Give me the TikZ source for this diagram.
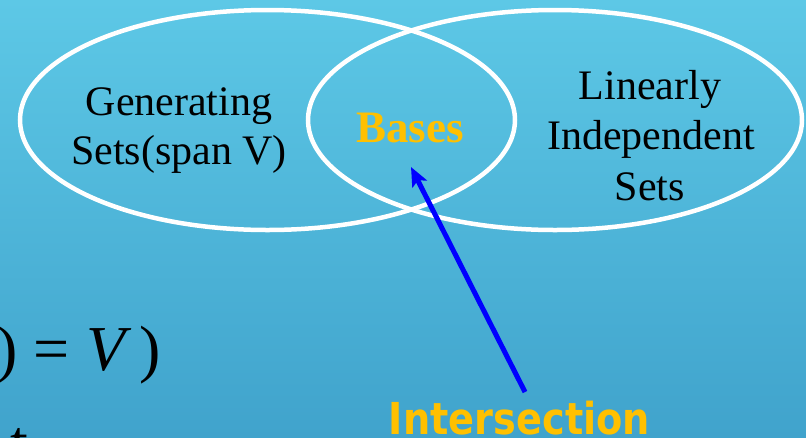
\documentclass[tikz,border=0pt]{standalone}
\usepackage{fontspec}
\setmainfont{Liberation Serif}
\newfontfamily\sansbold{DejaVu Sans}
\usetikzlibrary{arrows.meta,shapes.geometric}
\definecolor{bgtop}{RGB}{93,200,230}
\definecolor{bgbot}{RGB}{64,163,204}
\definecolor{gold}{RGB}{255,192,0}
\definecolor{arrowblue}{RGB}{0,0,255}
\tikzset{
  setellipse/.style={ellipse, draw=white, line width=4.5pt, inner sep=0pt},
  lbl/.style={inner sep=0pt, anchor=base, font=\fontsize{42pt}{49pt}\selectfont, text=black},
  mathlbl/.style={inner sep=0pt, anchor=base, font=\fontsize{64pt}{70pt}\selectfont, text=black},
  goldlbl/.style={inner sep=0pt, anchor=base, text=gold},
  pointer/.style={draw=arrowblue, line width=5pt, -{Stealth[length=19pt,width=16pt,inset=4pt]}}
}
\begin{document}
\begin{tikzpicture}[x=1pt,y=-1pt]
\useasboundingbox (0,0) rectangle (806,437);
\clip (0,0) rectangle (806,437);
\shade[top color=bgtop, bottom color=bgbot] (0,0) rectangle (806,437);

\node[setellipse, minimum width=495pt, minimum height=220pt] (left) at (267.5,120) {};
\node[setellipse, minimum width=494pt, minimum height=220pt] (right) at (555,120) {};

\node[lbl] (g1) at (179,115) {Generating};
\node[lbl] (g2) at (179,164) {Sets(span V)};

\node[lbl] (l1) at (650,99) {Linearly};
\node[lbl] (l2) at (651,149) {Independent};
\node[lbl] (l3) at (650,200) {Sets};

\node[goldlbl, font=\fontsize{45pt}{50pt}\selectfont\bfseries] (bases) at (410,142) {Bases};

\node[goldlbl, font=\fontsize{44pt}{50pt}\sansbold\bfseries] (isect) at (519.5,434) {\scalebox{0.87}[1]{Intersection}};

\node[mathlbl] (p1) at (7.5,370) {)};
\node[mathlbl] (eq) at (52,370) {=};
\node[mathlbl] (vv) at (106.5,370) {\itshape V};
\node[mathlbl] (p2) at (150.5,370) {)};
\node[mathlbl, anchor=base west] (tt) at (10,464) {t};

\coordinate (tail) at (525,392);
\coordinate (tip) at (411,167);
\draw[pointer] (tail) -- (tip);
\end{tikzpicture}
\end{document}
